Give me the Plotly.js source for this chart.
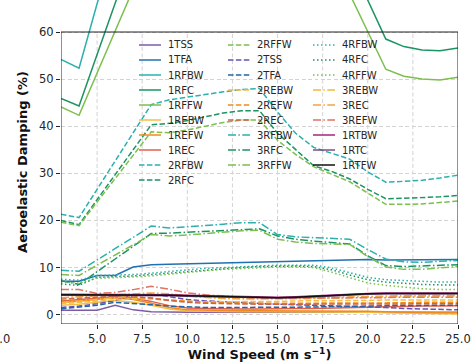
<!DOCTYPE html>
<html><head><meta charset="utf-8">
<script src="https://cdn.plot.ly/plotly-3.0.1.min.js"></script>
<style>html,body{margin:0;padding:0;background:#fff}#chart{width:473px;height:364px}</style>
</head><body><div id="chart"></div>
<script>
// ---------- DATA ----------
const windSpeed = [3,4,5,6,7,8,9,10,11,12,13,14,15,16,17,18,19,20,21,22,23,24,25];
const xTickVals = [5,7.5,10,12.5,15,17.5,20,22.5,25];
const xTickText = ['5.0','7.5','10.0','12.5','15.0','17.5','20.0','22.5','25.0'];
const yTickVals = [0,10,20,30,40,50,60];
const yTickText = ['0','10','20','30','40','50','60'];

const d1TSS  = [0.9,0.9,0.9,2.0,1.0,0.6,0.5,0.5,0.5,0.5,0.5,0.5,0.5,0.5,0.5,0.5,0.5,0.5,0.5,0.5,0.5,0.5,0.5];
const d1TFA  = [7.1,7.1,8.3,8.3,10.1,10.6,10.7,10.8,10.9,11.0,11.0,11.1,11.2,11.3,11.4,11.5,11.6,11.7,11.6,11.6,11.6,11.7,11.7];
const d1RFBW = [54.2,52.3,66,80,92,102,108,112,115,117,118,118,116,112,107,101,95,89,84,80,78,77,77];
const d1RFC  = [45.9,44.3,55.2,66.5,77,86,92,96,98,99,99,98,96,93,89,84,75,66.6,58.5,56.9,56.2,56.0,56.6];
const d1RFFW = [44.1,42.3,51.3,60.3,69.3,78,85,90,93,95,96,96,94,90,84,76,68.1,60.1,52.1,50.6,50.0,49.8,50.4];
const d1REBW = [2.0,2.2,2.6,3.0,2.6,2.0,1.2,0.8,0.7,0.6,0.6,0.6,0.6,0.6,0.6,0.6,0.5,0.5,0.4,0.3,0.2,0.1,0.1];
const d1REFW = [2.5,2.8,3.2,3.6,3.2,2.4,1.5,1.0,0.9,0.8,0.8,0.8,0.8,0.8,0.8,0.8,0.8,0.7,0.6,0.5,0.5,0.4,0.4];
const d1REC  = [2.9,3.2,3.5,3.8,3.5,2.8,1.9,1.4,1.3,1.2,1.2,1.2,1.3,1.3,1.3,1.4,1.4,1.5,1.6,1.7,1.8,1.8,1.9];
const d2RFBW = [21.3,20.6,26.6,32.6,38.6,44.6,45.6,46.2,46.8,47.3,47.8,48.0,43.0,38.5,35.5,34.3,33.0,30.3,28.1,28.3,28.5,29.0,29.6];
const d2RFC  = [20.0,19.1,24.4,29.7,35.0,40.3,40.6,41.2,42.0,42.8,43.3,43.3,38.5,35.0,31.6,30.4,28.8,26.6,24.6,24.7,24.8,25.0,25.3];
const d2RFFW = [19.6,18.9,23.9,28.9,33.9,38.8,38.6,39.2,40.0,40.8,41.3,41.3,37.0,34.0,31.4,29.8,28.2,25.8,23.4,23.4,23.5,23.8,24.1];
const d2TSS  = [1.5,1.8,2.3,3.0,4.0,4.4,3.8,3.2,2.9,2.7,2.5,2.3,2.2,2.1,2.0,1.9,1.8,1.6,1.5,1.3,1.2,1.1,1.0];
const d2TFA  = [1.2,1.6,2.0,2.6,2.4,2.1,1.8,1.6,1.5,1.5,1.5,1.5,1.5,1.6,1.6,1.7,1.7,1.8,1.9,1.9,2.0,2.0,2.0];
const d2REBW = [2.3,2.6,2.9,3.2,3.4,3.3,3.0,2.8,2.7,2.7,2.7,2.8,2.8,2.9,2.9,3.0,3.0,3.0,3.1,3.1,3.1,3.1,3.1];
const d2REFW = [2.7,3.0,3.3,3.6,3.7,3.5,3.1,2.8,2.6,2.5,2.4,2.4,2.4,2.4,2.4,2.4,2.5,2.5,2.5,2.5,2.6,2.6,2.6];
const d2REC  = [3.3,3.5,3.7,3.9,3.8,3.5,3.0,2.6,2.4,2.3,2.2,2.2,2.2,2.2,2.2,2.2,2.2,2.2,2.3,2.3,2.3,2.3,2.3];
const d3RFBW = [9.4,9.2,11.6,14.0,16.4,18.8,18.4,18.6,18.9,19.2,19.5,19.5,17.0,16.5,16.3,16.2,16.0,13.8,11.8,11.2,11.1,11.3,11.5];
const d3RFC  = [7.2,6.4,9.1,11.8,14.5,17.2,17.3,17.5,17.7,17.9,18.1,18.2,16.7,16.0,15.6,15.3,15.0,12.5,10.4,10.2,10.3,10.4,10.6];
const d3RFFW = [8.5,8.3,10.5,12.6,14.8,17.0,16.7,16.9,17.2,17.5,17.8,17.9,16.0,15.4,15.1,15.0,14.9,12.3,10.1,9.6,9.6,9.9,10.2];
const d4RFBW = [7.5,7.3,8.3,8.4,8.5,8.8,9.2,9.5,9.8,10.0,10.2,10.4,10.5,10.5,10.5,9.9,8.9,7.9,7.4,7.2,7.0,6.9,6.9];
const d4RFC  = [6.5,6.2,7.9,8.0,8.2,8.5,8.8,9.2,9.5,9.8,10.0,10.2,10.3,10.3,10.2,9.5,8.4,7.4,6.9,6.6,6.4,6.3,6.3];
const d4RFFW = [6.9,6.7,7.7,7.8,8.0,8.2,8.6,9.0,9.3,9.6,9.8,10.0,10.1,10.1,10.0,9.0,7.8,6.7,6.2,5.8,5.5,5.3,5.3];
const d3REBW = [2.5,2.8,3.2,3.6,4.0,4.3,4.2,3.9,3.6,3.4,3.3,3.3,3.3,3.4,3.4,3.5,3.6,3.7,3.8,3.8,3.9,3.9,3.9];
const d3REC  = [3.6,3.8,4.0,4.2,4.4,4.6,4.4,4.0,3.7,3.5,3.4,3.4,3.4,3.5,3.6,3.7,3.8,3.9,4.0,4.0,4.1,4.1,4.1];
const d3REFW = [5.3,5.3,4.5,4.7,5.3,6.0,5.4,4.6,4.2,3.9,3.7,3.6,3.5,3.5,3.5,3.5,3.5,3.6,3.6,3.7,3.7,3.7,3.7];
const d1RTBW = [4.3,4.3,4.3,4.3,4.3,4.3,4.2,4.1,4.0,3.9,3.8,3.7,3.7,3.8,4.0,4.2,4.4,4.5,4.6,4.6,4.6,4.6,4.6];
const d1RTC  = [4.1,4.1,4.1,4.1,4.1,4.1,4.0,3.9,3.8,3.7,3.6,3.5,3.5,3.6,3.8,4.0,4.2,4.3,4.4,4.4,4.4,4.4,4.4];
const d1RTFW = [4.2,4.2,4.2,4.2,4.2,4.2,4.1,4.0,3.9,3.8,3.7,3.6,3.6,3.7,3.9,4.1,4.3,4.4,4.5,4.5,4.5,4.5,4.5];

const seriesNames = ['1TSS','1TFA','1RFBW','1RFC','1RFFW','1REBW','1REFW','1REC','2RFBW','2RFC',
  '2RFFW','2TSS','2TFA','2REBW','2REFW','2REC','3RFBW','3RFC','3RFFW',
  '4RFBW','4RFC','4RFFW','3REBW','3REC','3REFW','1RTBW','1RTC','1RTFW'];
const seriesData = [d1TSS,d1TFA,d1RFBW,d1RFC,d1RFFW,d1REBW,d1REFW,d1REC,d2RFBW,d2RFC,
  d2RFFW,d2TSS,d2TFA,d2REBW,d2REFW,d2REC,d3RFBW,d3RFC,d3RFFW,
  d4RFBW,d4RFC,d4RFFW,d3REBW,d3REC,d3REFW,d1RTBW,d1RTC,d1RTFW];

// ---------- STYLES ----------
const C = {teal:'#2bb0ad', green:'#1b9462', lgreen:'#7cbf4e', gold:'#f4be45', orange:'#f08a1e',
  red:'#e0604c', purple:'#7c5ba6', blue:'#2170b0', magenta:'#a02a78', rtc:'#7a4f80', black:'#111111'};
const D = {solid:'solid', dash:'5.5px,2.4px', dashdot:'8px,2.4px,1.5px,2.4px', dot:'1.5px,2.5px'};
const styleOf = {
  '1TSS':[C.purple,D.solid], '1TFA':[C.blue,D.solid], '1RFBW':[C.teal,D.solid], '1RFC':[C.green,D.solid],
  '1RFFW':[C.lgreen,D.solid], '1REBW':[C.gold,D.solid], '1REFW':[C.orange,D.solid], '1REC':[C.red,D.solid],
  '2RFBW':[C.teal,D.dash], '2RFC':[C.green,D.dash], '2RFFW':[C.lgreen,D.dash], '2TSS':['#6a50b2',D.dash],
  '2TFA':['#2166a6',D.dash], '2REBW':[C.gold,D.dash], '2REFW':[C.orange,D.dash], '2REC':['#c8664a',D.dash],
  '3RFBW':[C.teal,D.dashdot], '3RFC':[C.green,D.dashdot], '3RFFW':[C.lgreen,D.dashdot],
  '4RFBW':[C.teal,D.dot], '4RFC':[C.green,D.dot], '4RFFW':[C.lgreen,D.dot],
  '3REBW':['#f3b93a',D.dashdot], '3REC':['#f2a244',D.dashdot], '3REFW':['#e07266',D.dashdot],
  '1RTBW':[C.magenta,D.solid], '1RTC':[C.rtc,D.solid], '1RTFW':[C.black,D.solid]
};

// ---------- GEOMETRY ----------
const W = 473, H = 364, M = {l:61, r:15, t:0, b:40};
const PW = W - M.l - M.r, PH = H - M.t - M.b;
const pxPerUnit = (PH - 32) / 62;
const yTop = 60 + 32 / pxPerUnit;
const px2x = p => (p - M.l) / PW;
const py2y = p => 1 - (p - M.t) / PH;

const traces = seriesNames.map((n, i) => ({
  type:'scatter', mode:'lines', name:n, x:windSpeed, y:seriesData[i],
  line:{color:styleOf[n][0], dash:styleOf[n][1], width:1.5}, hoverinfo:'skip', showlegend:false
}));

const shapes = [];
xTickVals.slice(0, -1).forEach(v => shapes.push({type:'line', xref:'x', yref:'y', x0:v, x1:v, y0:-2, y1:60,
  line:{color:'#d3d3d3', width:1, dash:'4px,2.5px'}, layer:'below'}));
shapes.push({type:'rect', xref:'x', yref:'y', x0:3, x1:25, y0:-2, y1:60, line:{color:'#222', width:1}, layer:'above'});

const annotations = [];
const colX = [139, 228, 313];
seriesNames.forEach((n, i) => {
  const col = i < 10 ? 0 : (i < 19 ? 1 : 2);
  const row = col === 0 ? i : (col === 1 ? i - 10 : i - 19);
  const py = 45 + 15 * row, x0 = colX[col];
  shapes.push({type:'line', xref:'paper', yref:'paper', x0:px2x(x0), x1:px2x(x0 + 22), y0:py2y(py), y1:py2y(py),
    line:{color:styleOf[n][0], dash:styleOf[n][1], width:1.5}, layer:'above'});
  annotations.push({xref:'paper', yref:'paper', x:px2x(x0 + 28), y:py2y(py), xanchor:'left', yanchor:'middle',
    text:n, showarrow:false, font:{size:10, color:'#262626'}, borderpad:0});
});
annotations.push({xref:'paper', yref:'paper', x:px2x(1), y:py2y(339), xanchor:'center', yanchor:'middle',
  text:'0.0', showarrow:false, font:{size:11.5, color:'#262626'}, borderpad:0});

const layout = {
  width:W, height:H, margin:M, paper_bgcolor:'#fff', plot_bgcolor:'#fff', showlegend:false,
  font:{family:'DejaVu Sans', size:11.5, color:'#262626'},
  xaxis:{range:[3,25], tickvals:xTickVals, ticktext:xTickText, ticks:'outside', ticklen:4, tickwidth:1,
    tickcolor:'#222', showgrid:false, zeroline:false, showline:false,
    title:{text:'Wind Speed (m s<sup>−1</sup>)', font:{size:13, weight:'bold', color:'#111'}, standoff:4}},
  yaxis:{range:[-2, yTop], tickvals:yTickVals, ticktext:yTickText, ticks:'outside', ticklen:4, tickwidth:1,
    tickcolor:'#222', showgrid:true, gridcolor:'#d3d3d3', griddash:'4px,2.5px', gridwidth:1,
    zeroline:false, showline:false,
    title:{text:'Aeroelastic Damping (%)', font:{size:13, weight:'bold', color:'#111'}, standoff:8}},
  shapes:shapes, annotations:annotations
};
Plotly.newPlot('chart', traces, layout, {displayModeBar:false, staticPlot:true});
</script></body></html>
